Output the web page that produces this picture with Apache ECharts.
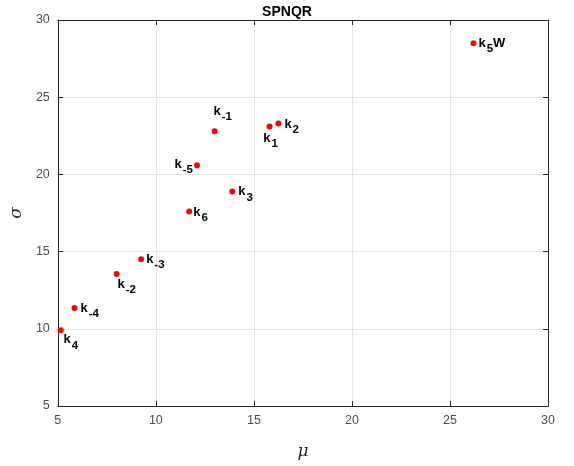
<!DOCTYPE html>
<html><head><meta charset="utf-8">
<script src="https://cdn.jsdelivr.net/npm/echarts@6/dist/echarts.min.js"></script>
<style>html,body{margin:0;padding:0;background:#fff}#c{width:574px;height:466px}</style>
</head><body><div id="c"></div>
<script>
const names = ['k-1','k1','k2','k-5','k3','k6','k-3','k-2','k-4','k4','k5W'];
const muValues = [13.0, 15.8, 16.25, 12.1, 13.9, 11.7, 9.25, 8.0, 5.85, 5.15, 26.2];
const sigmaValues = [22.8, 23.1, 23.3, 20.6, 18.9, 17.6, 14.5, 13.55, 11.35, 9.9, 28.5];
const xTicks = [5, 10, 15, 20, 25, 30];
const yTicks = [5, 10, 15, 20, 25, 30];

const labelPlace = {
  'k-1': {position:'top', offset:[8,-2]},
  'k1': {position:'bottom', offset:[1,-1]},
  'k2': {position:'right', offset:[0,3]},
  'k-5': {position:'left', offset:[2,2]},
  'k3': {position:'right', offset:[0,3]},
  'k6': {position:'right', offset:[-2,3]},
  'k-3': {position:'right', offset:[-1,3]},
  'k-2': {position:'bottom', offset:[10,-2]},
  'k-4': {position:'right', offset:[0,3]},
  'k4': {position:'bottom', offset:[10,-3]},
  'k5W': {position:'right', offset:[-1,3]}
};
function richText(n){
  const m = n.match(/^k(-?\d+)(.*)$/);
  return '{b|k}{s|' + m[1] + '}' + (m[2] ? '{b|' + m[2] + '}' : '');
}
const data = names.map((n,i)=>({
  name:n, value:[muValues[i], sigmaValues[i]],
  label: Object.assign({show:true, formatter: richText(n)}, labelPlace[n])
}));
const font = 'Liberation Sans, Arial, Helvetica, sans-serif';
const axisCommon = {
  min: 5, max: 30, interval: 5,
  axisLine:{show:true, onZero:false, lineStyle:{color:'#262626', width:1}},
  axisTick:{show:true, inside:true, length:5, lineStyle:{color:'#262626'}},
  splitLine:{show:false}
};
const chart = echarts.init(document.getElementById('c'));
chart.setOption({
  animation:false,
  backgroundColor:'#fff',
  title:{text:'SPNQR', left:'center', top:0, textStyle:{fontFamily:font, fontSize:14, fontWeight:'bold', color:'#000'}},
  grid:{left:57, right:26, top:20, bottom:60},
  xAxis:[
    Object.assign({}, axisCommon, {type:'value', position:'bottom',
      name:'μ', nameLocation:'middle', nameGap:37,
      nameTextStyle:{fontFamily:'DejaVu Serif, serif', fontStyle:'italic', fontSize:17, color:'#262626'},
      axisLabel:{color:'#4d4d4d', fontFamily:font, fontSize:12.5, margin:8, formatter:v=>xTicks.includes(v)?String(v):''},
      splitLine:{show:true, lineStyle:{color:'#e3e3e3', width:1}}}),
    Object.assign({}, axisCommon, {type:'value', position:'top', axisLabel:{show:false}})
  ],
  yAxis:[
    Object.assign({}, axisCommon, {type:'value', position:'left',
      name:'σ', nameLocation:'middle', nameGap:25, nameRotate:90,
      nameTextStyle:{fontFamily:'DejaVu Serif, serif', fontStyle:'italic', fontSize:17, color:'#262626'},
      axisLabel:{color:'#4d4d4d', fontFamily:font, fontSize:12.5, margin:8, formatter:v=>yTicks.includes(v)?String(v):''},
      splitLine:{show:true, lineStyle:{color:'#e3e3e3', width:1}}}),
    Object.assign({}, axisCommon, {type:'value', position:'right', axisLabel:{show:false}})
  ],
  series:[{
    type:'scatter', xAxisIndex:0, yAxisIndex:0,
    symbol:'circle', symbolSize:6,
    itemStyle:{color:'#ff0000', opacity:1},
    data: data,
    label:{
      distance:3,
      rich:{
        b:{fontFamily:font, fontSize:13, fontWeight:'bold', color:'#000', lineHeight:18, verticalAlign:'top'},
        s:{fontFamily:font, fontSize:11.5, fontWeight:'bold', color:'#000', lineHeight:18, verticalAlign:'bottom', padding:[7,0,0,1]}
      }
    }
  }]
});
</script></body></html>
